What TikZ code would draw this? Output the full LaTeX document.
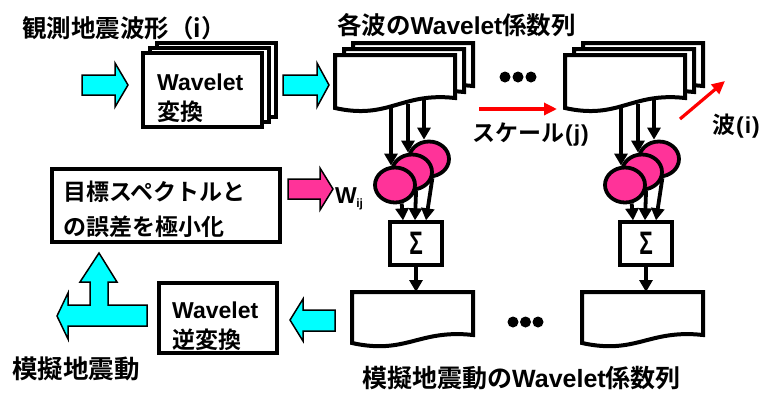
\documentclass[tikz,border=0pt]{standalone}
\usepackage{fontspec}
\setmainfont{Liberation Sans}
\newfontfamily\jp{Noto Sans CJK JP}[BoldFont={Noto Sans CJK JP Bold}]
\usetikzlibrary{arrows.meta,shapes.geometric}
\definecolor{arrcyan}{RGB}{0,255,255}
\definecolor{arrpink}{RGB}{255,51,153}
\newcommand\wavybox[6]{% name, x1, x2, top, bottom-left, bottom-right
  \pgfmathsetmacro\cxa{#2+0.45*(#3-#2)}%
  \pgfmathsetmacro\cxb{#2+0.55*(#3-#2)}%
  \draw[boxln] (#2,#4) -- (#3,#4) -- (#3,#6) .. controls (\cxb,#6-6) and (\cxa,#5+12) .. (#2,#5) -- cycle;
  \coordinate (#1) at ({(#2+#3)/2},#4);
}
\newcommand\coefgroup[2]{% suffix, dx
\begin{scope}[xshift=#2pt]
  \wavybox{sb#1}{353}{473}{43}{96}{86}
  \wavybox{sm#1}{344}{464}{49}{102}{92}
  \wavybox{sf#1}{335}{455}{55}{108}{98}
  \node[ell] (ea#1) at (429,159) {};
  \node[ell] (eb#1) at (412,172) {};
  \node[ell] (ec#1) at (395,185) {};
  \coordinate (oa#1) at (424,100);
  \coordinate (ob#1) at (408,104);
  \coordinate (oc#1) at (391,108);
  \draw[conn] (oc#1) -- (oc#1 |- ec#1.north);
  \draw[conn] (ob#1) -- (ob#1 |- eb#1.north);
  \draw[conn] (oa#1) -- (oa#1 |- ea#1.north);
  \node[sigbox] (sg#1) at (416,243.5) {\fontsize{25}{25}\selectfont\bfseries\scalebox{0.9}[1.3]{Σ}};
  \draw[conn] (ec#1.-70) -- ([xshift=-13pt]sg#1.north);
  \draw[conn] (eb#1.-78) -- ([xshift=-1pt]sg#1.north);
  \draw[conn] (ea#1.-80) -- ([xshift=10pt]sg#1.north);
  \wavybox{bx#1}{352}{473}{292}{343}{335}
  \draw[conn] (sg#1.south) -- (sg#1.south |- bx#1);
\end{scope}
}
\begin{document}
\begin{tikzpicture}[x=1pt,y=-1pt]
\tikzset{
  txt/.style={font=\bfseries\fontsize{23}{27}\selectfont, inner sep=0pt, anchor=west},
  ttl/.style={font=\bfseries\fontsize{24.5}{28}\selectfont, inner sep=0pt, anchor=west},
  boxln/.style={draw=black, line width=4pt, fill=white},
  sigbox/.style={draw=black, line width=3.4pt, fill=white, minimum width=52pt, minimum height=43pt, inner sep=0pt},
  cyanarr/.style={fill=arrcyan, draw=black, line width=1.5pt, line join=miter},
  pinkarr/.style={fill=arrpink, draw=black, line width=1.5pt, line join=miter},
  conn/.style={draw=black, line width=3.8pt, -{Triangle[length=12pt,width=13pt]}},
  redarr/.style={draw=red, line width=3.2pt, -{Triangle[length=13pt,width=12pt]}},
  ell/.style={ellipse, draw=black, line width=3.8pt, fill=arrpink, minimum width=40pt, minimum height=35pt, inner sep=0pt},
  dot/.style={circle, fill=black, minimum size=11pt, inner sep=0pt},
}
\useasboundingbox (0,0) rectangle (772,392);

% titles
\node[ttl] (t1) at (22,28) {\jp 観測地震波形（i）};
\node[ttl] (t2) at (337,25) {{\jp 各波の}Wavelet{\jp 係数列}};

% input arrow
\draw[cyanarr] (82,75) -- (115,75) -- (115,63) -- (128,85) -- (115,107) -- (115,95) -- (82,95) -- cycle;

% wavelet transform stack
\draw[boxln] (157,43) rectangle (276,117);
\draw[boxln] (150,48) rectangle (269,122);
\node[boxln, minimum width=119pt, minimum height=74pt, inner sep=0pt] (wt) at (202.5,90) {};
\node[txt] (wt1) at (157,82) {Wavelet};
\node[txt] (wt2) at (157,112) {\jp 変換};

% arrow to coefficients
\draw[cyanarr] (283,75) -- (317,75) -- (317,63) -- (329,85) -- (317,107) -- (317,95) -- (283,95) -- cycle;

% groups
\coefgroup{1}{0}
\coefgroup{2}{230}

% dots
\node[dot] (d1) at (505,77) {};
\node[dot] (d2) at (518,77) {};
\node[dot] (d3) at (531,77) {};
\node[dot] (d4) at (513,322) {};
\node[dot] (d5) at (525.5,322) {};
\node[dot] (d6) at (538,322) {};

% red arrows
\coordinate (r1a) at (479,109);
\coordinate (r1b) at (557,109);
\draw[redarr] (r1a) -- (r1b);
\node[txt] (scl) at (472,135) {{\jp スケール}\kern1pt(\kern1pt j\kern1pt)};
\coordinate (r2a) at (680,119);
\coordinate (r2b) at (725,81);
\draw[redarr] (r2a) -- (r2b);
\node[txt] (wv) at (712,126) {{\jp 波}\kern1pt(\kern1pt i\kern1pt)};

% target box
\node[boxln, minimum width=228pt, minimum height=73pt, inner sep=0pt] (tg) at (166,205.5) {};
\node[txt] (tg1) at (63,192) {\jp 目標スペクトルと};
\node[txt] (tg2) at (63,227) {\jp の誤差を極小化};

% pink arrow and W_ij
\draw[pinkarr] (288,179) -- (320,179) -- (320,168) -- (333,189) -- (320,210) -- (320,199) -- (288,199) -- cycle;
\node[txt] (wij) at (335,199) {W\kern-0.5pt\raisebox{-4pt}{\fontsize{12}{12}\selectfont ij}};

% inverse transform
\draw[cyanarr] (335,310) -- (303,310) -- (303,299) -- (290,320) -- (303,341) -- (303,331) -- (335,331) -- cycle;
\node[boxln, minimum width=118pt, minimum height=70pt, inner sep=0pt] (iw) at (218,318) {};
\node[txt] (iw1) at (172,310) {Wavelet};
\node[txt] (iw2) at (172,340) {\jp 逆変換};

% T arrow
\draw[cyanarr] (147,305) -- (108,305) -- (108,282) -- (117,282) -- (99,253) -- (80,282) -- (90,282) -- (90,305) -- (68,305) -- (68,293) -- (57,316) -- (68,339) -- (68,326) -- (147,326) -- cycle;

% bottom labels
\node[ttl, font=\bfseries\fontsize{25.5}{28}\selectfont] (out) at (12,369) {\jp 模擬地震動};
\node[ttl, font=\bfseries\fontsize{25}{28}\selectfont] (t3) at (362,378) {{\jp 模擬地震動の}Wavelet{\jp 係数列}};
\end{tikzpicture}
\end{document}
